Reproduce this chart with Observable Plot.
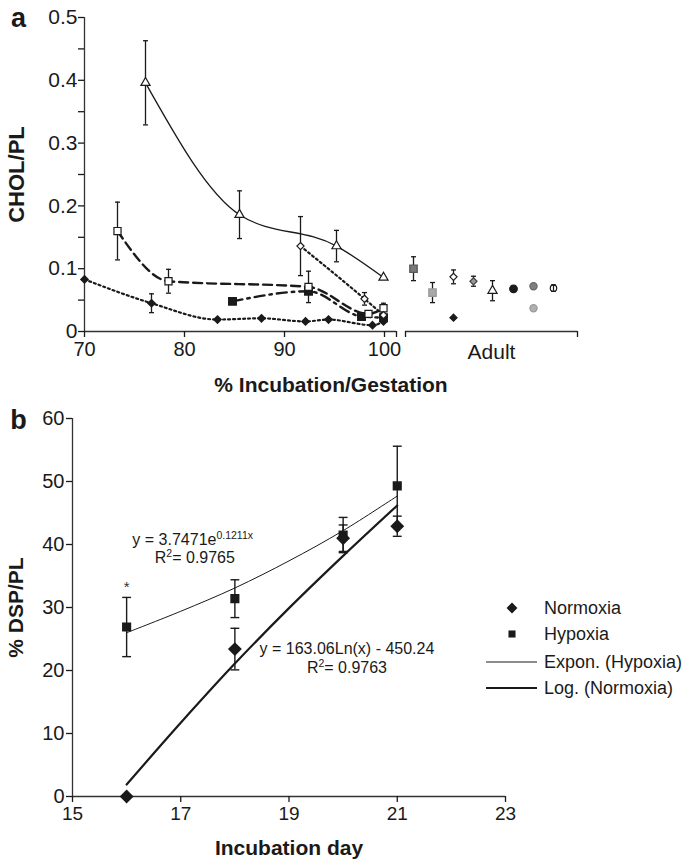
<!DOCTYPE html>
<html><head><meta charset="utf-8">
<script src="https://cdn.jsdelivr.net/npm/d3@7"></script>
<script src="https://cdn.jsdelivr.net/npm/@observablehq/plot@0.6"></script>
<style>
body{margin:0;background:#fff;font-family:"Liberation Sans",Arial,Helvetica,sans-serif;}
#wrap{position:relative;width:686px;height:861px;overflow:hidden}
#pa{position:absolute;left:0;top:0}
#pb{position:absolute;left:0;top:400px}
</style></head><body><div id="wrap"><div id="pa"></div><div id="pb"></div></div>
<script>
// ---------- Panel a data ----------
const xTicksA = [70, 80, 90, 100];
const yTicksA = [0, 0.1, 0.2, 0.3, 0.4, 0.5];
const yMinorA = [0.05, 0.15, 0.25, 0.35, 0.45];
const axisBreak = [101.2, 102.1];
const adultEnd = 119.3;
const adultLabel = "Adult";

const triX = [76.1, 85.5, 95.2, 99.9];
const triY = [0.396, 0.186, 0.136, 0.086];
const triE = [0.067, 0.038, 0.025, 0];

const openSqX = [73.3, 78.4, 92.4, 98.4, 99.9];
const openSqY = [0.160, 0.080, 0.071, 0.028, 0.037];
const openSqE = [0.046, 0.019, 0.025, 0, 0.008];

const solidSqX = [84.8, 92.4, 97.7, 99.9];
const solidSqY = [0.048, 0.064, 0.024, 0.022];
const solidSqE = [0, 0, 0, 0.006];

const solidDiaX = [70, 76.7, 83.3, 87.7, 92.1, 94.4, 98.8, 99.9];
const solidDiaY = [0.083, 0.045, 0.019, 0.021, 0.016, 0.019, 0.010, 0.016];
const solidDiaE = [0, 0.015, 0, 0, 0, 0, 0, 0];

const openDiaX = [91.6, 98.0, 99.9];
const openDiaY = [0.136, 0.052, 0.026];
const openDiaE = [0.047, 0.010, 0];

const adultX = [102.9, 104.8, 106.9, 106.9, 108.9, 110.8, 112.9, 114.9, 114.9, 116.9];
const adultY = [0.100, 0.062, 0.022, 0.087, 0.080, 0.065, 0.068, 0.072, 0.037, 0.069];
const adultE = [0.019, 0.016, 0, 0.011, 0.008, 0.016, 0.004, 0, 0, 0.005];
const adultKind = ["graySq", "lightSq", "blackDia", "whiteDia", "grayDia", "whiteTri", "blackCirc", "grayCirc", "lightCirc", "ringCirc"];

// ---------- Panel b data ----------
const xTicksB = [15, 17, 19, 21, 23];
const yTicksB = [0, 10, 20, 30, 40, 50, 60];
const hypDay = [16, 18, 20, 21];
const hypY = [26.9, 31.4, 41.5, 49.3];
const hypE = [4.7, 3.0, 2.8, 6.3];
const normDay = [16, 18, 20, 21];
const normY = [0, 23.4, 41.0, 42.9];
const normE = [0, 3.3, 2.1, 1.6];
const trendDay = [16, 17, 18, 19, 20, 21];
const expTrend = [26.0, 29.4, 33.1, 37.4, 42.2, 47.7];
const logTrend = [1.9, 11.7, 21.1, 29.9, 38.2, 46.2];
const starDay = 16, starY = 33.2;
const expEq = ["y = 3.7471e", "0.1211x"], expR2 = "0.9765";
const logEq = "y = 163.06Ln(x) - 450.24", logR2 = "0.9763";
const legendLabels = ["Normoxia", "Hypoxia", "Expon. (Hypoxia)", "Log. (Normoxia)"];

// ---------- helpers ----------
const rows = (xs, ys, es) => xs.map((x, i) => ({x, y: ys[i], e: es ? es[i] : 0}));
const capSym = {draw(ctx, size) { const w = Math.sqrt(size) / 2; ctx.moveTo(-w, 0); ctx.lineTo(w, 0); }};
const INK = "#1a1a1a";
function errMarks(data, capR, sw) {
  const d = data.filter(r => r.e > 0);
  return [
    Plot.ruleX(d, {x: "x", y1: r => r.y - r.e, y2: r => r.y + r.e, stroke: INK, strokeWidth: sw}),
    Plot.dot(d, {x: "x", y: r => r.y + r.e, symbol: capSym, r: capR, stroke: INK, strokeWidth: sw, fill: "none"}),
    Plot.dot(d, {x: "x", y: r => r.y - r.e, symbol: capSym, r: capR, stroke: INK, strokeWidth: sw, fill: "none"})
  ];
}
const FONT = "Liberation Sans, Arial, Helvetica, sans-serif";

// ---------- Panel a ----------
const tri = rows(triX, triY, triE), oSq = rows(openSqX, openSqY, openSqE), sSq = rows(solidSqX, solidSqY, solidSqE);
const sDia = rows(solidDiaX, solidDiaY, solidDiaE), oDia = rows(openDiaX, openDiaY, openDiaE);
const adult = adultX.map((x, i) => ({x, y: adultY[i], e: adultE[i], kind: adultKind[i]}));
const KIND = {
  graySq: {symbol: "square", fill: "#7a7a7a", stroke: "#555", r: 4.2},
  lightSq: {symbol: "square", fill: "#a9a9a9", stroke: "#999", r: 4.2},
  blackDia: {symbol: "diamond2", fill: INK, stroke: INK, r: 3.2},
  whiteDia: {symbol: "diamond2", fill: "#fff", stroke: INK, r: 3.2},
  grayDia: {symbol: "diamond2", fill: "#999", stroke: "#444", r: 3.2},
  whiteTri: {symbol: "triangle", fill: "#fff", stroke: INK, r: 3.4},
  blackCirc: {symbol: "circle", fill: INK, stroke: INK, r: 3.8},
  grayCirc: {symbol: "circle", fill: "#7f7f7f", stroke: "#666", r: 3.6},
  lightCirc: {symbol: "circle", fill: "#b0b0b0", stroke: "#999", r: 3.6},
  ringCirc: {symbol: "circle", fill: "#fff", stroke: INK, r: 3.2}
};
const CURVE = "monotone-x";

const pa = Plot.plot({
  width: 686, height: 400,
  marginLeft: 84, marginRight: 109, marginTop: 17, marginBottom: 69,
  x: {domain: [70, adultEnd]},
  y: {domain: [0, 0.5]},
  style: {fontFamily: FONT, fontSize: "20px", color: INK, background: "#fff", overflow: "visible"},
  marks: [
    Plot.ruleX([70], {y1: 0, y2: 0.5, stroke: "#333", strokeWidth: 1.3}),
    Plot.ruleY([0], {x1: 70, x2: axisBreak[0], stroke: "#333", strokeWidth: 1.3}),
    Plot.ruleY([0], {x1: axisBreak[1], x2: adultEnd, stroke: "#333", strokeWidth: 1.3}),
    Plot.axisY(yTicksA, {tickSize: 6, tickPadding: 1, strokeWidth: 1.3, label: null, fontSize: 21, tickFormat: d => d === 0 ? "0" : d3.format(".1f")(d)}),
    Plot.axisY(yMinorA, {tickSize: 6, strokeWidth: 1.3, label: null, tickFormat: () => ""}),
    Plot.axisX([...xTicksA, ...axisBreak, adultEnd], {tickSize: 6, tickPadding: 4, strokeWidth: 1.3, label: null, tickFormat: d => xTicksA.includes(d) ? String(d) : ""}),
    Plot.text([adultLabel], {x: (axisBreak[1] + adultEnd) / 2, frameAnchor: "bottom", lineAnchor: "middle", dy: 21, fontSize: 21}),
    Plot.text(["% Incubation/Gestation"], {frameAnchor: "bottom", lineAnchor: "middle", dy: 54, fontSize: 21, fontWeight: "bold"}),
    Plot.text(["CHOL/PL"], {frameAnchor: "left", textAnchor: "middle", lineAnchor: "middle", dx: -68, rotate: -90, fontSize: 22, fontWeight: "bold"}),
    Plot.text(["a"], {frameAnchor: "top-left", textAnchor: "middle", lineAnchor: "middle", dx: -66, dy: 1, fontSize: 27, fontWeight: "bold"}),
    // error bars
    ...errMarks([...tri, ...oSq, ...sSq, ...sDia, ...oDia, ...adult], 2.8, 1.3),
    // lines
    Plot.line(tri, {x: "x", y: "y", curve: CURVE, stroke: INK, strokeWidth: 1.3}),
    Plot.line(oSq, {x: "x", y: "y", curve: CURVE, stroke: INK, strokeWidth: 2.4, strokeDasharray: "9,5"}),
    Plot.line(sSq, {x: "x", y: "y", curve: CURVE, stroke: INK, strokeWidth: 2.4, strokeDasharray: "10,5,2.5,5"}),
    Plot.line(sDia, {x: "x", y: "y", curve: CURVE, stroke: INK, strokeWidth: 2.2, strokeDasharray: "2,3"}),
    Plot.line(oDia, {x: "x", y: "y", curve: CURVE, stroke: INK, strokeWidth: 2.2, strokeDasharray: "2,3"}),
    // symbols
    Plot.dot(sDia, {x: "x", y: "y", symbol: "diamond2", r: 3.2, fill: INK, stroke: INK}),
    Plot.dot(sSq, {x: "x", y: "y", symbol: "square", r: 4.2, fill: INK, stroke: INK}),
    Plot.dot(oSq, {x: "x", y: "y", symbol: "square", r: 4.0, fill: "#fff", stroke: INK, strokeWidth: 1.2}),
    Plot.dot(oDia, {x: "x", y: "y", symbol: "diamond2", r: 3.2, fill: "#fff", stroke: INK, strokeWidth: 1.2}),
    Plot.dot(tri, {x: "x", y: "y", symbol: "triangle", r: 3.4, fill: "#fff", stroke: INK, strokeWidth: 1.2}),
    ...Object.keys(KIND).map(k => Plot.dot(adult.filter(d => d.kind === k), {x: "x", y: "y", ...KIND[k], strokeWidth: 1.2})),
    ...errMarks(adult.filter(d => d.kind === "ringCirc"), 2.2, 1.2)
  ]
});
document.getElementById("pa").appendChild(pa);

// ---------- Panel b ----------
const hyp = rows(hypDay, hypY, hypE), norm = rows(normDay, normY, normE);
const trend = trendDay.map((x, i) => ({x, exp: expTrend[i], log: logTrend[i]}));
const pb = Plot.plot({
  width: 686, height: 461,
  marginLeft: 72, marginRight: 181, marginTop: 18, marginBottom: 65,
  x: {domain: [15, 23]},
  y: {domain: [0, 60]},
  style: {fontFamily: FONT, fontSize: "19px", color: INK, background: "#fff", overflow: "visible"},
  marks: [
    Plot.ruleX([15], {y1: 0, y2: 60, stroke: "#333", strokeWidth: 1.3}),
    Plot.ruleY([0], {x1: 15, x2: 23, stroke: "#333", strokeWidth: 1.3}),
    Plot.axisY(yTicksB, {tickSize: 6, tickPadding: 2, strokeWidth: 1.3, label: null, fontSize: 20}),
    Plot.axisX(xTicksB, {tickSize: 6, tickPadding: 4, strokeWidth: 1.3, label: null}),
    Plot.text(["Incubation day"], {frameAnchor: "bottom", lineAnchor: "middle", dy: 52, fontSize: 21, fontWeight: "bold"}),
    Plot.text(["% DSP/PL"], {frameAnchor: "left", textAnchor: "middle", lineAnchor: "middle", dx: -56, rotate: -90, fontSize: 21, fontWeight: "bold"}),
    Plot.text(["b"], {frameAnchor: "top-left", textAnchor: "middle", lineAnchor: "middle", dx: -54, dy: 2, fontSize: 27, fontWeight: "bold"}),
    Plot.line(trend, {x: "x", y: "exp", stroke: INK, strokeWidth: 1, curve: "catmull-rom"}),
    Plot.line(trend, {x: "x", y: "log", stroke: INK, strokeWidth: 2.2, curve: "catmull-rom"}),
    ...errMarks([...hyp, ...norm], 5, 1.4),
    Plot.dot(hyp, {x: "x", y: "y", symbol: "square", r: 4.3, fill: INK, stroke: INK}),
    Plot.dot(norm, {x: "x", y: "y", symbol: "diamond2", r: 5.3, fill: INK, stroke: INK}),
    Plot.text(["*"], {x: starDay, y: starY, fontSize: 15, fill: "#333"})
  ]
});
document.getElementById("pb").appendChild(pb);

// equations (real text with superscripts), placed through the plot's scales
const sx = pb.scale("x"), sy = pb.scale("y");
const gEq = d3.select(pb).append("g").attr("fill", INK).attr("font-size", 16).attr("text-anchor", "middle");
function eq(x, y, parts) {
  const t = gEq.append("text").attr("x", sx.apply(x)).attr("y", sy.apply(y)).attr("dy", "0.35em");
  let up = false;
  for (const [s, sup] of parts) {
    const ts = t.append("tspan").text(s);
    if (sup && !up) { ts.attr("dy", -6).attr("font-size", 10.5); up = true; }
    else if (!sup && up) { ts.attr("dy", 6); up = false; }
  }
}
eq(17.23, 40.8, [[expEq[0], false], [expEq[1], true]]);
eq(17.27, 37.8, [["R", false], ["2", true], ["= " + expR2, false]]);
eq(20.08, 23.4, [[logEq, false]]);
eq(20.08, 20.4, [["R", false], ["2", true], ["= " + logR2, false]]);

// legend
const gL = d3.select(pb).append("g").attr("fill", INK).attr("font-size", 18).attr("text-anchor", "start");
const rowsY = [208, 234, 262, 288];
gL.append("path").attr("transform", `translate(512,${rowsY[0]})`).attr("d", d3.symbol(d3.symbolDiamond2, 75)()).attr("fill", INK);
gL.append("path").attr("transform", `translate(512,${rowsY[1]})`).attr("d", d3.symbol(d3.symbolSquare, 50)()).attr("fill", INK);
gL.append("line").attr("x1", 486).attr("x2", 537).attr("y1", rowsY[2]).attr("y2", rowsY[2]).attr("stroke", INK).attr("stroke-width", 1);
gL.append("line").attr("x1", 486).attr("x2", 537).attr("y1", rowsY[3]).attr("y2", rowsY[3]).attr("stroke", INK).attr("stroke-width", 2.2);
legendLabels.forEach((s, i) => gL.append("text").attr("x", 544).attr("y", rowsY[i]).attr("dy", "0.35em").attr("text-anchor", "start").text(s));
</script>
</body></html>
